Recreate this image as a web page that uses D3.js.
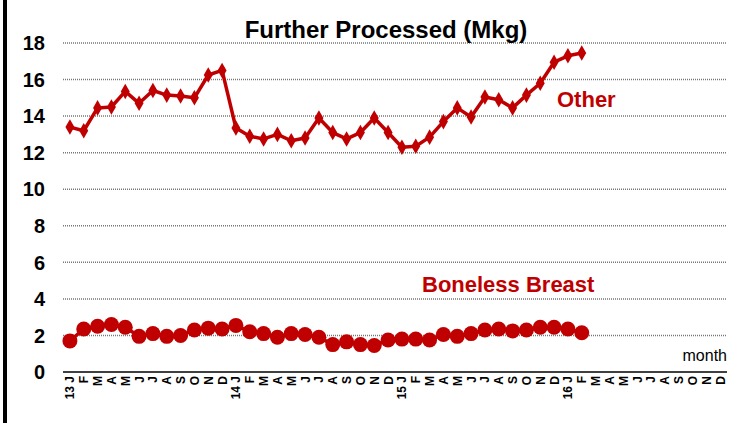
<!DOCTYPE html>
<html>
<head>
<meta charset="utf-8">
<script src="https://cdn.jsdelivr.net/npm/d3@7"></script>
<style>
  body { margin: 0; background: #fff; }
  svg { display: block; font-family: "Liberation Sans", Arial, sans-serif; }
</style>
</head>
<body>
<svg id="chart" width="741" height="423"></svg>
<script>
'use strict';

// month letters for 2013-2016 (4 years x 12)
var monthLetters = ['J', 'F', 'M', 'A', 'M', 'J', 'J', 'A', 'S', 'O', 'N', 'D'];
var years = ['13', '14', '15', '16'];
var yTicks = [0, 2, 4, 6, 8, 10, 12, 14, 16, 18];

// Jan 2013 .. Feb 2016
var other = [13.4, 13.2, 14.45, 14.5, 15.35, 14.7, 15.4, 15.15, 15.1, 15.0, 16.25, 16.5,
  13.35, 12.9, 12.75, 13.0, 12.65, 12.8, 13.9, 13.1, 12.75, 13.1, 13.9, 13.1,
  12.3, 12.35, 12.85, 13.7, 14.45, 13.95, 15.05, 14.9, 14.45, 15.15, 15.8, 16.95,
  17.3, 17.45];
var boneless = [1.7, 2.35, 2.5, 2.6, 2.45, 1.95, 2.1, 1.95, 2.0, 2.3, 2.4, 2.35,
  2.55, 2.2, 2.1, 1.9, 2.1, 2.05, 1.9, 1.5, 1.65, 1.5, 1.45, 1.75,
  1.8, 1.8, 1.75, 2.05, 1.95, 2.1, 2.3, 2.35, 2.25, 2.3, 2.45, 2.45,
  2.35, 2.15];

var red = '#c00000';

var labels = [];
years.forEach(function (yr) {
  monthLetters.forEach(function (m, i) {
    labels.push(i === 0 ? yr + ' ' + m : m);
  });
});

var svg = d3.select('#chart'),
  margin = {top: 43, right: 14, bottom: 51, left: 63},
  width = +svg.attr('width') - margin.left - margin.right,
  height = +svg.attr('height') - margin.top - margin.bottom,
  g = svg.append('g').attr('transform', 'translate(' + margin.left + ',' + margin.top + ')');

// left frame line
svg.append('rect')
  .attr('x', 3).attr('y', 0)
  .attr('width', 4).attr('height', 423)
  .attr('fill', '#000');

var x = d3.scaleBand()
  .domain(d3.range(labels.length))
  .range([0, width]);

var y = d3.scaleLinear()
  .domain([0, 18])
  .range([height, 0]);

var cx = function (i) { return x(i) + x.bandwidth() / 2; };

// gridlines
g.append('g')
  .selectAll('line')
  .data(yTicks.filter(function (d) { return d > 0; }))
  .enter().append('line')
  .attr('x1', 0).attr('x2', width)
  .attr('y1', function (d) { return y(d); })
  .attr('y2', function (d) { return y(d); })
  .attr('stroke', '#777')
  .attr('stroke-width', 1.5)
  .attr('stroke-dasharray', '1,1');

// y axis labels
g.append('g')
  .selectAll('text')
  .data(yTicks)
  .enter().append('text')
  .attr('x', -18)
  .attr('y', function (d) { return y(d); })
  .attr('dy', '0.36em')
  .attr('text-anchor', 'end')
  .attr('font-size', 20)
  .attr('font-weight', 'bold')
  .text(function (d) { return d; });

// x axis
g.append('line')
  .attr('x1', 0).attr('x2', width)
  .attr('y1', height).attr('y2', height)
  .attr('stroke', '#000')
  .attr('stroke-width', 1.5);

g.append('g')
  .selectAll('text')
  .data(labels)
  .enter().append('text')
  .attr('transform', function (d, i) {
    return 'translate(' + (cx(i) + 4.5) + ',' + (height + 4) + ') rotate(-90)';
  })
  .attr('text-anchor', 'end')
  .attr('font-size', 12)
  .attr('font-weight', 'bold')
  .text(function (d) { return d; });

g.append('text')
  .attr('x', width)
  .attr('y', height - 11)
  .attr('text-anchor', 'end')
  .attr('font-size', 16)
  .text('month');

// title
svg.append('text')
  .attr('x', 386)
  .attr('y', 38)
  .attr('text-anchor', 'middle')
  .attr('font-size', 24)
  .attr('font-weight', 'bold')
  .text('Further Processed (Mkg)');

var line = d3.line()
  .x(function (d, i) { return cx(i); })
  .y(function (d) { return y(d); });

// Other series
g.append('path')
  .datum(other)
  .attr('d', line)
  .attr('fill', 'none')
  .attr('stroke', red)
  .attr('stroke-width', 3.5)
  .attr('stroke-linejoin', 'round');

g.append('g')
  .selectAll('path')
  .data(other)
  .enter().append('path')
  .attr('d', d3.symbol().type(d3.symbolDiamond).size(70))
  .attr('transform', function (d, i) { return 'translate(' + cx(i) + ',' + y(d) + ')'; })
  .attr('fill', red);

// Boneless Breast series
g.append('path')
  .datum(boneless)
  .attr('d', line)
  .attr('fill', 'none')
  .attr('stroke', red)
  .attr('stroke-width', 3.5);

g.append('g')
  .selectAll('circle')
  .data(boneless)
  .enter().append('circle')
  .attr('cx', function (d, i) { return cx(i); })
  .attr('cy', function (d) { return y(d); })
  .attr('r', 7.5)
  .attr('fill', red);

// series labels
svg.append('text')
  .attr('x', 557).attr('y', 107)
  .attr('font-size', 22)
  .attr('font-weight', 'bold')
  .attr('fill', red)
  .text('Other');

svg.append('text')
  .attr('x', 422).attr('y', 292)
  .attr('font-size', 22)
  .attr('font-weight', 'bold')
  .attr('fill', red)
  .text('Boneless Breast');
</script>
</body>
</html>
